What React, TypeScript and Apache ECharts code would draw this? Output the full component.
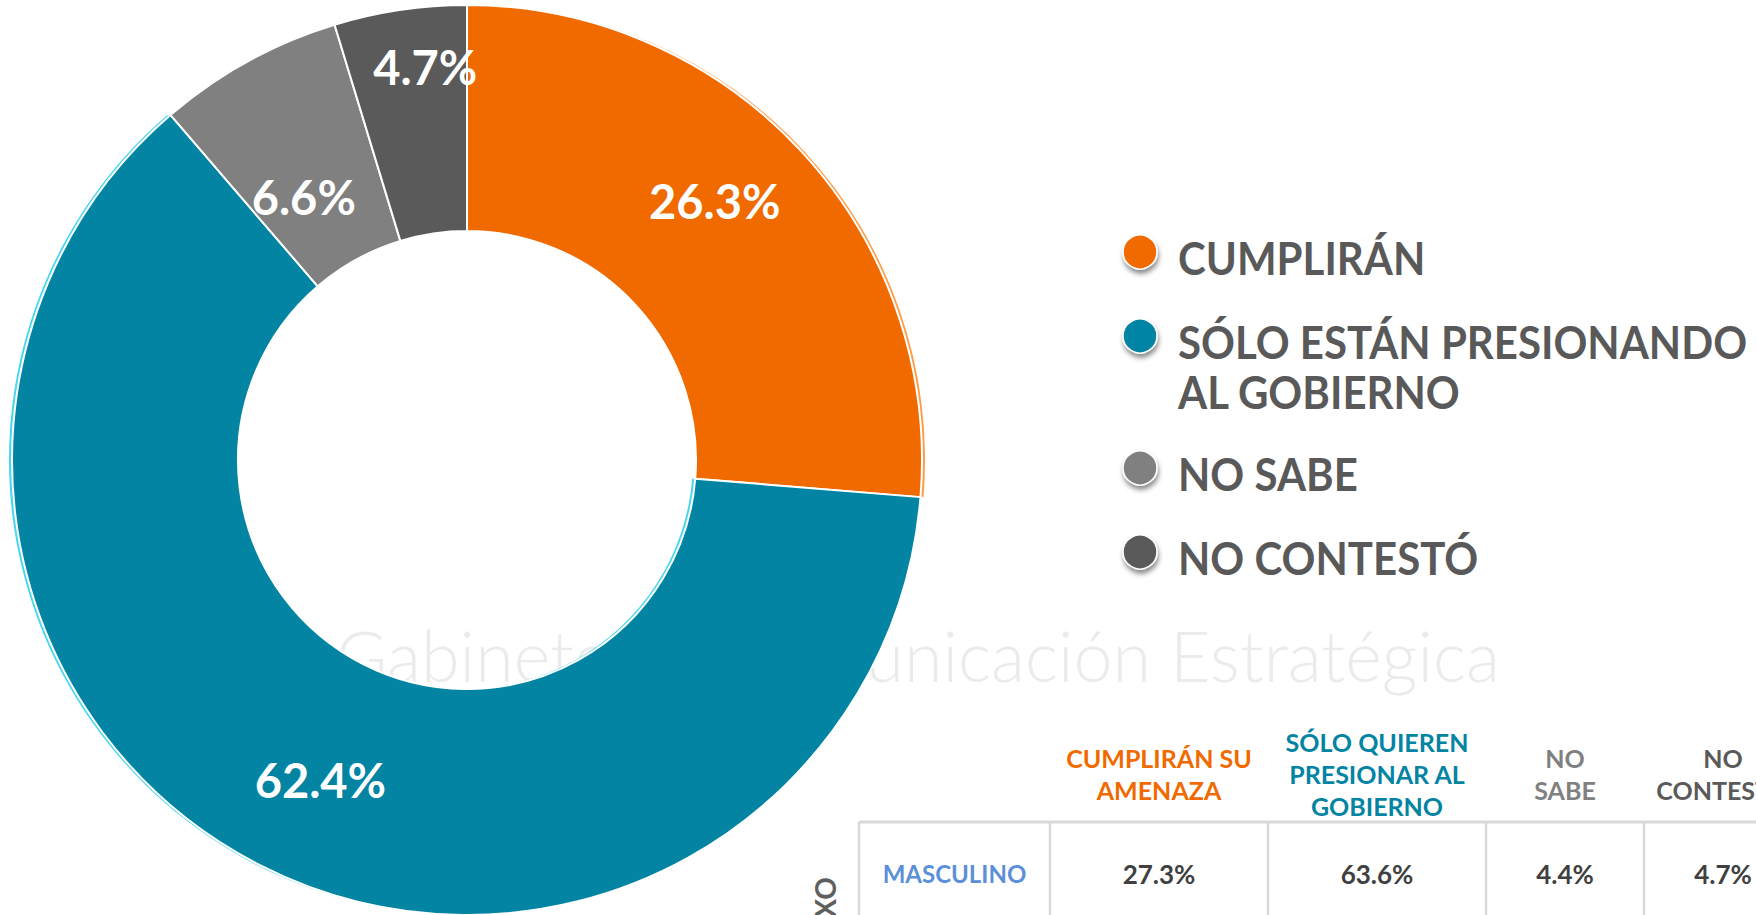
import React, { useEffect, useRef } from "react";
import * as echarts from "echarts";

// ---- data ----
const categories = ["CUMPLIRÁN", "SÓLO ESTÁN PRESIONANDO\nAL GOBIERNO", "NO SABE", "NO CONTESTÓ"];
const shares = [26.3, 62.4, 6.6, 4.7];

const tableHeaders = ["CUMPLIRÁN SU\nAMENAZA", "SÓLO QUIEREN\nPRESIONAR AL\nGOBIERNO", "NO\nSABE", "NO\nCONTESTÓ"];
const rowGroup = "SEXO";
const rowLabels = ["MASCULINO"];
const masculinoValues = [27.3, 63.6, 4.4, 4.7];
const watermarkText = "Gabinete de Comunicación Estratégica";

// ---- style ----
const colors = ["#F06A00", "#0384A3", "#808080", "#5A5A5A"];
const bevelColors = ["#FF9B45", "#45D6F2", "rgba(0,0,0,0)", "rgba(0,0,0,0)"];
const FONT = 'Lato, "Noto Sans", sans-serif';
const labelNudge = [
  [-6, -25],
  [10, 13],
  [3, 39],
  [9, -52],
];
const CENTER = [467, 460];
const RADIUS = [229, 455];

export default function App() {
  const ref = useRef<HTMLDivElement>(null);

  useEffect(() => {
    document.body.style.margin = "0";
    if (!ref.current) return;
    const chart = echarts.init(ref.current, null, { renderer: "svg" });

    const graphics: any[] = [];

    // faint watermark
    graphics.push({
      type: "text",
      z: -9,
      silent: true,
      style: {
        x: 336,
        y: 655,
        text: watermarkText,
        font: `300 70px ${FONT}`,
        fill: "#ebebeb",
        verticalAlign: "middle",
        align: "left",
      },
    });

    // legend (circles + labels)
    const LH = 45;
    let ly = 252;
    categories.forEach((name, i) => {
      const lines = name.split("\n").length;
      graphics.push({
        type: "circle",
        z: 10,
        shape: { cx: 1140, cy: ly, r: 17 },
        style: {
          fill: colors[i],
          stroke: "#ffffff",
          lineWidth: 1.5,
          shadowBlur: 5,
          shadowOffsetX: 1,
          shadowOffsetY: 4,
          shadowColor: "rgba(0,0,0,0.45)",
        },
      });
      graphics.push({
        type: "text",
        z: 10,
        x: 1178,
        y: ly + 5,
        scaleY: 1.1,
        style: {
          x: 0,
          y: -LH / 2,
          text: name,
          font: `bold 42px ${FONT}`,
          lineHeight: LH,
          fill: "#595959",
          align: "left",
          verticalAlign: "top",
        },
      });
      ly += 84 + (lines - 1) * 48;
    });

    // table
    const colEdges = [859, 1050, 1268, 1486, 1644];
    const colCenters = [1159, 1377, 1565, 1723];
    const lineColor = "#D9D9D9";
    const headerTop = 822;
    graphics.push({
      type: "line",
      z: 10,
      shape: { x1: colEdges[0], y1: headerTop, x2: 1756, y2: headerTop },
      style: { stroke: lineColor, lineWidth: 3 },
    });
    colEdges.forEach((x) => {
      graphics.push({
        type: "line",
        z: 10,
        shape: { x1: x, y1: headerTop, x2: x, y2: 915 },
        style: { stroke: lineColor, lineWidth: 2.5 },
      });
    });
    tableHeaders.forEach((h, i) => {
      graphics.push({
        type: "text",
        z: 10,
        style: {
          x: colCenters[i],
          y: 774,
          text: h,
          font: `bold 25px ${FONT}`,
          lineHeight: 32,
          fill: colors[i],
          align: "center",
          verticalAlign: "middle",
        },
      });
    });
    rowLabels.forEach((r, ri) => {
      graphics.push({
        type: "text",
        z: 10,
        style: {
          x: (colEdges[0] + colEdges[1]) / 2,
          y: 873 + ri * 100,
          text: r,
          font: `bold 24px ${FONT}`,
          fill: "#5B8FD9",
          align: "center",
          verticalAlign: "middle",
        },
      });
    });
    masculinoValues.forEach((v, i) => {
      graphics.push({
        type: "text",
        z: 10,
        style: {
          x: colCenters[i],
          y: 874,
          text: v.toFixed(1) + "%",
          font: `bold 26px ${FONT}`,
          fill: "#404040",
          align: "center",
          verticalAlign: "middle",
        },
      });
    });
    graphics.push({
      type: "text",
      z: 10,
      x: 825,
      y: 877,
      rotation: Math.PI / 2,
      style: {
        x: 0,
        y: 0,
        text: rowGroup,
        font: `bold 28px ${FONT}`,
        fill: "#5F5F5F",
        align: "right",
        verticalAlign: "middle",
      },
    });

    const pieData = categories.map((name, i) => ({
      name,
      value: shares[i],
      itemStyle: { color: colors[i] },
    }));

    const bevel = (idx: number, dx: number) => ({
      type: "pie",
      z: 1,
      silent: true,
      center: [CENTER[0] + dx, CENTER[1]],
      radius: RADIUS,
      startAngle: 90,
      clockwise: true,
      label: { show: false },
      labelLine: { show: false },
      data: categories.map((name, i) => ({
        name,
        value: shares[i],
        itemStyle: { color: i === idx ? bevelColors[i] : "rgba(0,0,0,0)" },
      })),
      emphasis: { disabled: true },
      tooltip: { show: false },
    });

    chart.setOption({
      animation: false,
      backgroundColor: "#ffffff",
      graphic: { elements: graphics },
      series: [
        bevel(1, -3),
        bevel(0, 3),
        {
          type: "pie",
          z: 2,
          center: CENTER,
          radius: RADIUS,
          startAngle: 90,
          clockwise: true,
          avoidLabelOverlap: false,
          data: pieData,
          itemStyle: { borderColor: "#ffffff", borderWidth: 2 },
          label: {
            show: true,
            position: "inside",
            formatter: (p: any) => p.value.toFixed(1) + "%",
            color: "#ffffff",
            fontFamily: FONT,
            fontWeight: "bold",
            fontSize: 47,
          },
          labelLine: { show: false },
          labelLayout: (params: any) => ({
            dx: labelNudge[params.dataIndex][0],
            dy: labelNudge[params.dataIndex][1],
          }),
          emphasis: { disabled: true },
        },
      ],
    });

    return () => chart.dispose();
  }, []);

  return <div ref={ref} style={{ width: 1756, height: 915 }} />;
}
